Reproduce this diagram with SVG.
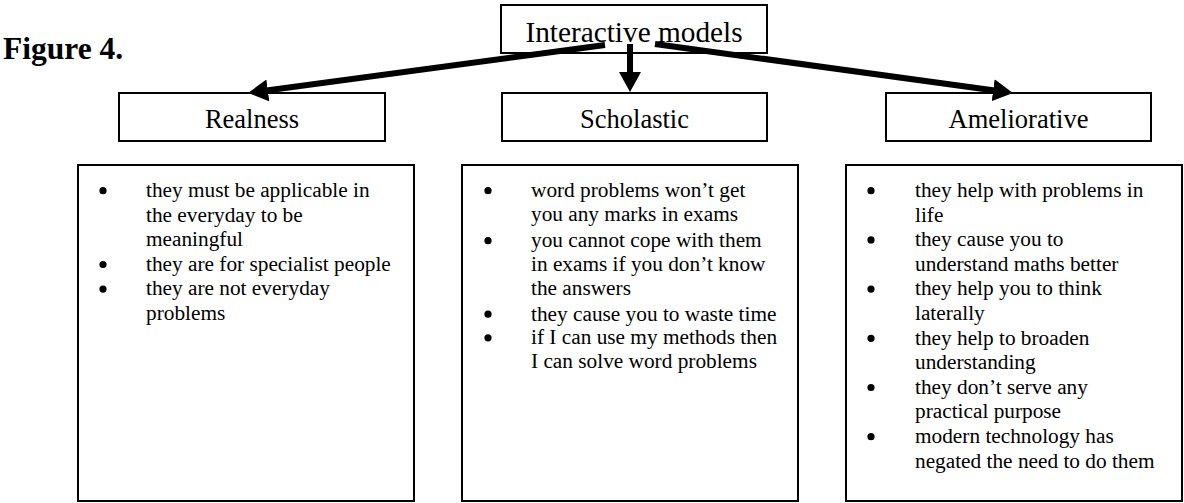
<svg xmlns="http://www.w3.org/2000/svg" xmlns:xlink="http://www.w3.org/1999/xlink" width="1184" height="503" viewBox="0 0 1184 503">
  <style>
    .box { fill: #ffffff; stroke: #000000; stroke-width: 2; }
    .title { font-family: "Liberation Serif", "Times New Roman", serif; font-weight: bold; font-size: 31.5px; fill: #000; }
    .head { font-family: "Liberation Serif", "Times New Roman", serif; font-size: 26.5px; fill: #000; text-anchor: middle; }
    .root { font-family: "Liberation Serif", "Times New Roman", serif; font-size: 29.3px; fill: #000; text-anchor: middle; }
    .item { font-family: "Liberation Serif", "Times New Roman", serif; font-size: 21.3px; fill: #000; }
    .link { stroke: #000; stroke-width: 6; fill: none; marker-end: url(#head); }
  </style>
  <defs>
    <marker id="head" markerUnits="userSpaceOnUse" markerWidth="22" markerHeight="24" viewBox="0 0 22 24" refX="7" refY="12" orient="auto">
      <path d="M0,1 L20,12 L0,23 z" fill="#000"/>
    </marker>
    <circle id="dot" r="3.6" fill="#000"/>
  </defs>

  <rect width="1184" height="503" fill="#ffffff"/>

  <text class="title" x="3" y="59">Figure 4.</text>

  <!-- root node -->
  <g id="interactive-models">
    <rect class="box" x="501" y="5" width="266" height="48"/>
    <text class="root" x="634" y="42">Interactive models</text>
  </g>

  <!-- category nodes -->
  <g id="realness">
    <rect class="box" x="119" y="93" width="266" height="48"/>
    <text class="head" x="252" y="128">Realness</text>
  </g>
  <g id="scholastic">
    <rect class="box" x="502" y="93" width="265" height="48"/>
    <text class="head" x="634.5" y="128">Scholastic</text>
  </g>
  <g id="ameliorative">
    <rect class="box" x="886" y="93" width="265" height="48"/>
    <text class="head" x="1018.5" y="128">Ameliorative</text>
  </g>

  <!-- connectors -->
  <g id="connectors">
    <line class="link" x1="605" y1="45" x2="260.9" y2="91.3"/>
    <line class="link" x1="630" y1="44" x2="630" y2="79"/>
    <line class="link" x1="655" y1="44" x2="1000.1" y2="91.2"/>
  </g>

  <!-- detail lists -->
  <g id="realness-list">
    <rect class="box" x="78" y="165" width="336" height="336"/>
    <use xlink:href="#dot" x="103" y="190.7"/>
    <use xlink:href="#dot" x="103" y="264.5"/>
    <use xlink:href="#dot" x="103" y="289.1"/>
    <text class="item" x="146">
      <tspan x="146" y="197">they must be applicable in</tspan>
      <tspan x="146" y="221.6">the everyday to be</tspan>
      <tspan x="146" y="246.2">meaningful</tspan>
      <tspan x="146" y="270.8">they are for specialist people</tspan>
      <tspan x="146" y="295.4">they are not everyday</tspan>
      <tspan x="146" y="320">problems</tspan>
    </text>
  </g>

  <g id="scholastic-list">
    <rect class="box" x="462" y="165" width="336" height="336"/>
    <use xlink:href="#dot" x="488" y="190.7"/>
    <use xlink:href="#dot" x="488" y="240.7"/>
    <use xlink:href="#dot" x="488" y="314.2"/>
    <use xlink:href="#dot" x="488" y="337.8"/>
    <text class="item" x="531">
      <tspan x="531" y="197">word problems won’t get</tspan>
      <tspan x="531" y="221">you any marks in exams</tspan>
      <tspan x="531" y="247">you cannot cope with them</tspan>
      <tspan x="531" y="270.5">in exams if you don’t know</tspan>
      <tspan x="531" y="294.5">the answers</tspan>
      <tspan x="531" y="320.5">they cause you to waste time</tspan>
      <tspan x="531" y="344">if I can use my methods then</tspan>
      <tspan x="531" y="367.5">I can solve word problems</tspan>
    </text>
  </g>

  <g id="ameliorative-list">
    <rect class="box" x="846" y="165" width="336" height="336"/>
    <use xlink:href="#dot" x="871" y="190.7"/>
    <use xlink:href="#dot" x="871" y="239.9"/>
    <use xlink:href="#dot" x="871" y="289.1"/>
    <use xlink:href="#dot" x="871" y="338.3"/>
    <use xlink:href="#dot" x="871" y="387.5"/>
    <use xlink:href="#dot" x="871" y="436.7"/>
    <text class="item" x="915">
      <tspan x="915" y="197">they help with problems in</tspan>
      <tspan x="915" y="221.6">life</tspan>
      <tspan x="915" y="246.2">they cause you to</tspan>
      <tspan x="915" y="270.8">understand maths better</tspan>
      <tspan x="915" y="295.4">they help you to think</tspan>
      <tspan x="915" y="320">laterally</tspan>
      <tspan x="915" y="344.6">they help to broaden</tspan>
      <tspan x="915" y="369.2">understanding</tspan>
      <tspan x="915" y="393.8">they don’t serve any</tspan>
      <tspan x="915" y="418.4">practical purpose</tspan>
      <tspan x="915" y="443">modern technology has</tspan>
      <tspan x="915" y="467.6">negated the need to do them</tspan>
    </text>
  </g>
</svg>
